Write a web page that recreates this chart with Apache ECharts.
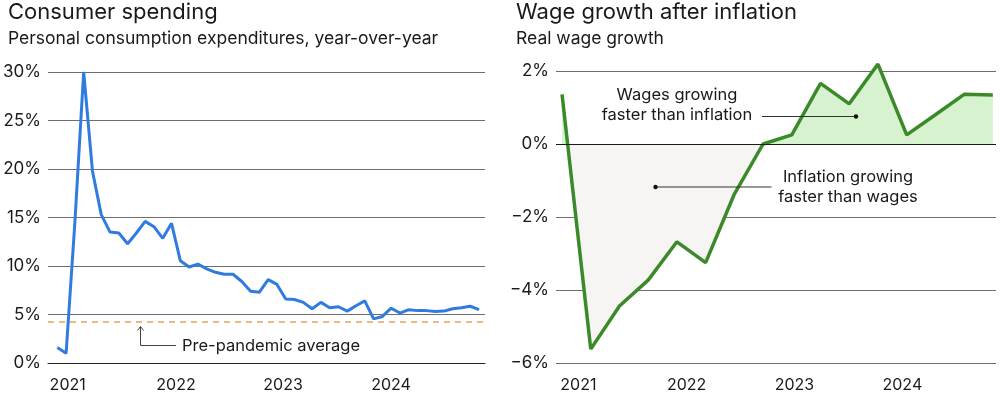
<!DOCTYPE html>
<html>
<head>
<meta charset="utf-8">
<script src="https://cdn.jsdelivr.net/npm/echarts@6/dist/echarts.min.js"></script>
<style>
  html, body { margin: 0; padding: 0; background: #fff; }
  #chart { width: 1000px; height: 398px; }
</style>
</head>
<body>
<div id="chart"></div>
<script>
// consumer spending, PCE year-over-year %, monthly (Dec 2020 - Dec 2024)
const months = [
  "2020-12",
  "2021-01", "2021-02", "2021-03", "2021-04", "2021-05", "2021-06",
  "2021-07", "2021-08", "2021-09", "2021-10", "2021-11", "2021-12",
  "2022-01", "2022-02", "2022-03", "2022-04", "2022-05", "2022-06",
  "2022-07", "2022-08", "2022-09", "2022-10", "2022-11", "2022-12",
  "2023-01", "2023-02", "2023-03", "2023-04", "2023-05", "2023-06",
  "2023-07", "2023-08", "2023-09", "2023-10", "2023-11", "2023-12",
  "2024-01", "2024-02", "2024-03", "2024-04", "2024-05", "2024-06",
  "2024-07", "2024-08", "2024-09", "2024-10", "2024-11", "2024-12",
];
const spending = [
  1.6,
  1.0, 14.5, 30.0, 19.8, 15.3, 13.5, 13.4, 12.3, 13.4, 14.6, 14.05, 12.85,
  14.4, 10.55, 9.9, 10.2, 9.7, 9.35, 9.15, 9.15, 8.4, 7.4, 7.3, 8.6,
  8.1, 6.6, 6.55, 6.25, 5.6, 6.25, 5.7, 5.8, 5.35, 5.9, 6.4, 4.55,
  4.8, 5.65, 5.15, 5.5, 5.4, 5.4, 5.3, 5.35, 5.6, 5.7, 5.85, 5.5,
];
const prePandemicAvg = 4.3;

// real wage growth %, quarterly
const quarters = [
  "Q1 2021", "Q2 2021", "Q3 2021", "Q4 2021",
  "Q1 2022", "Q2 2022", "Q3 2022", "Q4 2022",
  "Q1 2023", "Q2 2023", "Q3 2023", "Q4 2023",
  "Q1 2024", "Q2 2024", "Q3 2024", "Q4 2024",
];
const realWage = [
  1.36, -5.62, -4.44, -3.73, -2.68, -3.25, -1.37, 0.0,
  0.25, 1.66, 1.1, 2.19, 0.25, 0.8, 1.36, 1.34,
];

const yearLabels = ["2021", "2022", "2023", "2024"];

const FONT = 'Inter, "Noto Sans", sans-serif';
const INK = "#1a1a1a";
const GRID = "#6e6e6e";

// minus sign like the original, no plus sign
const pct = (v) => (v < 0 ? "\u2212" + Math.abs(v) : v) + "%";

// where 0 sits inside the area's bounding box -> hard colour stop
const wMax = Math.max(...realWage);
const wMin = Math.min(...realWage);
const zeroStop = wMax / (wMax - wMin);

const titleStyle = (size) => ({
  fontSize: size,
  fontWeight: "normal",
  color: INK,
  fontFamily: FONT,
});

const yAxisBase = {
  type: "value",
  axisLine: { show: false },
  axisTick: { show: false },
  axisLabel: { formatter: pct, fontSize: 17, color: INK, margin: 7, fontFamily: FONT },
  splitLine: { lineStyle: { color: GRID, width: 1 } },
};

const chart = echarts.init(document.getElementById("chart"));

const option = {
  animation: false,
  textStyle: { fontFamily: FONT, color: INK },
  title: [
    { text: "Consumer spending", left: 8, top: 1, padding: 0, textStyle: titleStyle(22) },
    { text: "Personal consumption expenditures, year-over-year", left: 8, top: 30, padding: 0, textStyle: titleStyle(17.5) },
    { text: "Wage growth after inflation", left: 516, top: 1, padding: 0, textStyle: titleStyle(22) },
    { text: "Real wage growth", left: 516, top: 30, padding: 0, textStyle: titleStyle(17.5) },
  ],
  grid: [
    { left: 48, right: 515, top: 72, bottom: 35 },
    { left: 556, right: 4, top: 71, bottom: 35 },
  ],
  xAxis: [
    {
      gridIndex: 0,
      type: "value",
      min: -2.06,
      max: 47.68,
      splitLine: { show: false },
      axisTick: { show: false },
      axisLine: { show: true, onZero: false, lineStyle: { color: "#222" } },
      axisLabel: {
        customValues: [0.18, 12.51, 24.7, 36.99],
        formatter: (v) => yearLabels[Math.round(v / 12)],
        margin: 14,
        fontSize: 16,
        color: INK,
        fontFamily: FONT,
      },
    },
    {
      gridIndex: 1,
      type: "value",
      min: -0.21,
      max: 15.11,
      splitLine: { show: false },
      axisTick: { show: false },
      axisLine: { show: false },
      axisLabel: {
        customValues: [0.57, 4.34, 8.09, 11.85],
        formatter: (v) => yearLabels[Math.round(v / 3.76)],
        margin: 14,
        fontSize: 16,
        color: INK,
        fontFamily: FONT,
      },
    },
  ],
  yAxis: [
    Object.assign({ gridIndex: 0, min: 0, max: 30, interval: 5 }, yAxisBase),
    Object.assign({ gridIndex: 1, min: -6, max: 2, interval: 2 }, yAxisBase),
  ],
  series: [
    {
      name: "Consumer spending",
      type: "line",
      xAxisIndex: 0,
      yAxisIndex: 0,
      symbol: "none",
      clip: false,
      lineStyle: { color: "#2f7be0", width: 3 },
      data: months.map((m, i) => [i - 1, spending[i]]),
      markLine: {
        silent: true,
        symbol: "none",
        label: { show: false },
        lineStyle: { type: [6, 5], color: "#e8a35a", width: 1.5 },
        data: [{ yAxis: prePandemicAvg }],
      },
      z: 3,
    },
    {
      name: "Real wage growth",
      type: "line",
      xAxisIndex: 1,
      yAxisIndex: 1,
      symbol: "none",
      clip: false,
      lineStyle: { color: "#3b8a2a", width: 3.5 },
      areaStyle: {
        origin: 0,
        opacity: 1,
        color: {
          type: "linear",
          x: 0, y: 0, x2: 0, y2: 1,
          colorStops: [
            { offset: 0, color: "#d6f2cf" },
            { offset: zeroStop, color: "#d6f2cf" },
            { offset: zeroStop, color: "#f6f5f3" },
            { offset: 1, color: "#f6f5f3" },
          ],
        },
      },
      data: quarters.map((q, i) => [i, realWage[i]]),
      markLine: {
        silent: true,
        symbol: "none",
        label: { show: false },
        lineStyle: { type: "solid", color: "#1a1a1a", width: 1 },
        data: [{ yAxis: 0 }],
      },
      z: 3,
    },
  ],
  // annotations, kept above the series
  graphic: [
    {
      type: "polyline", z: 100,
      shape: { points: [[176, 345.5], [140.5, 345.5], [140.5, 327]] },
      style: { stroke: "#444", lineWidth: 1, fill: null },
    },
    {
      type: "polyline", z: 100,
      shape: { points: [[137.5, 330.5], [140.5, 326.5], [143.5, 330.5]] },
      style: { stroke: "#444", lineWidth: 1, fill: null },
    },
    {
      type: "text", z: 100,
      style: { text: "Pre-pandemic average", x: 182, y: 346, align: "left", verticalAlign: "middle", font: "16.5px " + FONT, fill: INK },
    },
    {
      type: "text", z: 100,
      style: { text: "Wages growing\nfaster than inflation", x: 677, y: 105, align: "center", verticalAlign: "middle", font: "16.5px " + FONT, lineHeight: 20, fill: INK },
    },
    {
      type: "line", z: 100,
      shape: { x1: 762, y1: 116.5, x2: 856, y2: 116.5 },
      style: { stroke: "#333", lineWidth: 1 },
    },
    { type: "circle", z: 100, shape: { cx: 856, cy: 116.5, r: 2.2 }, style: { fill: "#111" } },
    {
      type: "text", z: 100,
      style: { text: "Inflation growing\nfaster than wages", x: 848, y: 187.5, align: "center", verticalAlign: "middle", font: "16.5px " + FONT, lineHeight: 20, fill: INK },
    },
    {
      type: "line", z: 100,
      shape: { x1: 655.5, y1: 187, x2: 771.5, y2: 187 },
      style: { stroke: "#333", lineWidth: 1 },
    },
    { type: "circle", z: 100, shape: { cx: 655.5, cy: 187, r: 2.2 }, style: { fill: "#111" } },
  ],
};

chart.setOption(option);
</script>
</body>
</html>
